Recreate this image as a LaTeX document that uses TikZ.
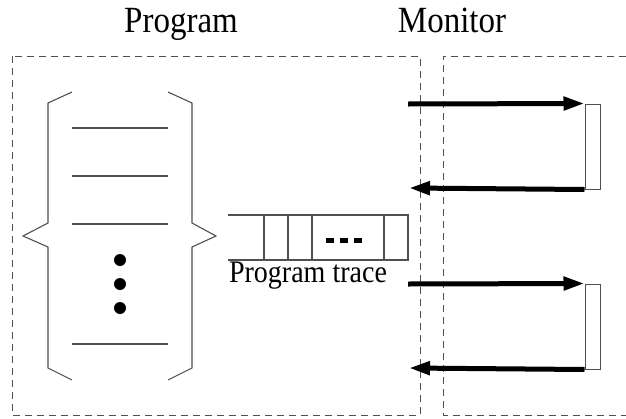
\documentclass[tikz,border=0pt]{standalone}
\usepackage{fontspec}
\setmainfont{Liberation Serif}
\usetikzlibrary{arrows.meta}
\definecolor{linegray}{RGB}{80,80,80}
\tikzset{
  area/.style={draw=linegray,line width=1pt,dash pattern=on 7pt off 5pt},
  brace/.style={draw=linegray,line width=1.1pt},
  msg/.style={line width=5pt,-{Triangle[length=21pt,width=13pt]}},
  ack/.style={draw=linegray,line width=1pt,minimum width=15pt,minimum height=85pt,inner sep=0pt}
}
\newcommand{\tall}[1]{\scalebox{1}[1.12]{#1}}
\newcommand{\stmtline}[1]{\draw[brace] (72,#1) -- (168,#1);}
\newcommand{\bigdot}[2]{\node[circle,fill=black,inner sep=0pt,minimum size=12pt] (#1) at (120,#2) {};}
\newcommand{\checker}[3]{\node[ack] (#1) at (592.5,#2) {};
  \coordinate (#1in) at (408,#3);
  \draw[msg] (#1in) -- (#1.north west);
  \coordinate (#1out) at (409,#2+#2-#3-1);
  \draw[msg] (#1.south west) -- (#1out);}
\begin{document}
\begin{tikzpicture}[x=1pt,y=-1pt]
	\useasboundingbox (0,0) rectangle (626,418);
	\node[anchor=base,font=\fontsize{33}{36}\selectfont] (prog) at (181,32) {\tall{Program}};
	\node[anchor=base,font=\fontsize{33}{36}\selectfont] (mon) at (452,32) {\tall{Monitor}};
	\draw[area] (12,56) rectangle (420,415);
	\draw[area] (626,56) -- (443,56) -- (443,415) -- (626,415);
	% the program body
	\draw[brace] (72,92) -- (48,103) -- (48,223) -- (23,236) -- (48,247) -- (48,368) -- (72,380);
	\draw[brace] (168,92) -- (192,103) -- (192,223) -- (216,236) -- (192,247) -- (192,368) -- (168,380);
	\stmtline{128} \stmtline{176} \stmtline{224} \stmtline{344}
	\bigdot{d1}{260} \bigdot{d2}{284} \bigdot{d3}{308}
	% trace buffer
	\draw[brace] (228,215) -- (408,215) -- (408,260) -- (228,260);
	\foreach \x in {264,288,312,384} \draw[brace] (\x,215) -- (\x,260);
	\draw[line width=5pt,dash pattern=on 8pt off 6pt] (326,240) -- (362,240);
	\node[anchor=base,font=\fontsize{28}{30}\selectfont,inner sep=0pt] (trace) at (308,282) {\tall{Program trace}};
	% monitor checks
	\checker{m1}{146.5}{104}
	\checker{m2}{326.5}{284}
\end{tikzpicture}
\end{document}
